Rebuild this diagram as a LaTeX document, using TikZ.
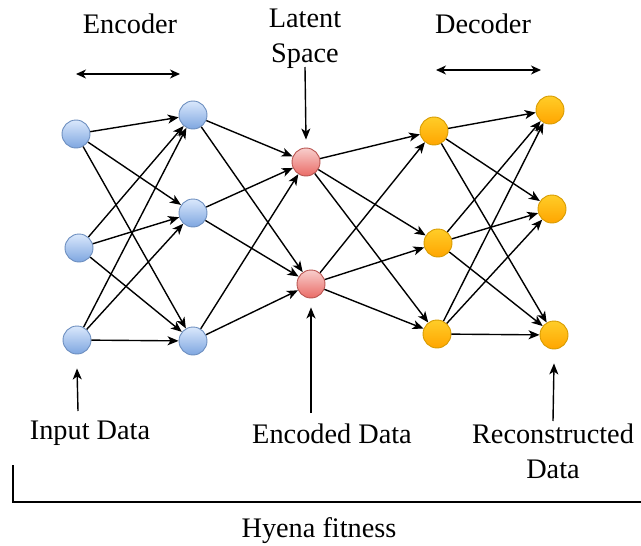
\documentclass[tikz,border=0pt]{standalone}
\usepackage{fontspec}
\setmainfont{Liberation Serif}
\newfontfamily\lblfont{Liberation Serif}
\usetikzlibrary{arrows.meta}
\definecolor{bluetop}{HTML}{DAE8FC}
\definecolor{bluebot}{HTML}{7EA6E0}
\definecolor{blueline}{HTML}{6C8EBF}
\definecolor{redtop}{HTML}{F8CECC}
\definecolor{redbot}{HTML}{EA6B66}
\definecolor{redline}{HTML}{B85450}
\definecolor{orgtop}{HTML}{FFCD28}
\definecolor{orgbot}{HTML}{FFA500}
\definecolor{orgline}{HTML}{D79B00}
\begin{document}
\begin{tikzpicture}[x=1pt,y=-1pt,
  neuron/.style={circle,minimum size=28pt,inner sep=0pt,line width=0.9pt},
  bluen/.style={neuron,draw=blueline,top color=bluetop,bottom color=bluebot},
  redn/.style={neuron,draw=redline,top color=redtop,bottom color=redbot},
  orgn/.style={neuron,draw=orgline,top color=orgtop,bottom color=orgbot},
  edge/.style={-{Stealth[length=11pt,width=9pt,inset=3pt]},line width=1.4pt},
  dbl/.style={{Stealth[length=10pt,width=9pt,inset=3pt]}-{Stealth[length=10pt,width=9pt,inset=3pt]},line width=1.4pt},
  lbl/.style={font=\lblfont\fontsize{28.3}{34.5}\selectfont,align=center,inner sep=0pt}
]
\useasboundingbox (0,0) rectangle (641,546);

% neurons
\node[bluen] (i1) at (76,134) {};
\node[bluen] (i2) at (79,248) {};
\node[bluen] (i3) at (77,340) {};
\node[bluen] (h1) at (193,115) {};
\node[bluen] (h2) at (193,213) {};
\node[bluen] (h3) at (193,341) {};
\node[redn]  (l1) at (306,162) {};
\node[redn]  (l2) at (311,284) {};
\node[orgn]  (d1) at (434,131) {};
\node[orgn]  (d2) at (438,243) {};
\node[orgn]  (d3) at (437,334) {};
\node[orgn]  (o1) at (550,110) {};
\node[orgn]  (o2) at (552,209) {};
\node[orgn]  (o3) at (554,335) {};

% connections
\foreach \a in {i1,i2,i3}{\foreach \b in {h1,h2,h3}{\draw[edge] (\a) -- (\b);}}
\foreach \a in {h1,h2,h3}{\foreach \b in {l1,l2}{\draw[edge] (\a) -- (\b);}}
\foreach \a in {l1,l2}{\foreach \b in {d1,d2,d3}{\draw[edge] (\a) -- (\b);}}
\foreach \a in {d1,d2,d3}{\foreach \b in {o1,o2,o3}{\draw[edge] (\a) -- (\b);}}

% top labels
\node[lbl,anchor=base] (enc) at (130,34) {Encoder};
\coordinate (encL) at (76,74);
\coordinate (encR) at (180,74);
\draw[dbl] (encL) -- (encR);
\node[lbl,anchor=north] (lat) at (305,9) {Latent\\Space};
\coordinate (latS) at (305,67);
\draw[edge] (latS) -- ([yshift=8pt]l1.north);
\node[lbl,anchor=base] (dec) at (483,34) {Decoder};
\coordinate (decL) at (436,70);
\coordinate (decR) at (541,70);
\draw[dbl] (decL) -- (decR);

% bottom labels
\node[lbl,anchor=base] (inp) at (90,439) {Input Data};
\coordinate (inpS) at (78,411);
\draw[edge] (inpS) -- ([yshift=-14pt]i3.south);
\node[lbl,anchor=base] (encd) at (332,443) {Encoded Data};
\coordinate (encdS) at (311,413);
\draw[edge] (encdS) -- ([yshift=-9pt]l2.south);
\node[lbl,anchor=north] (rec) at (553,424) {Reconstructed\\Data};
\coordinate (recS) at (553,421);
\draw[edge] (recS) -- ([yshift=-14pt]o3.south);

% bracket
\coordinate (bl) at (13,465);
\coordinate (bc) at (13,502);
\coordinate (br) at (641,502);
\draw[line width=1.2pt] (bl) -- (bc) -- (br);
\node[lbl,anchor=base] (hy) at (319,537) {Hyena fitness};
\end{tikzpicture}
\end{document}
